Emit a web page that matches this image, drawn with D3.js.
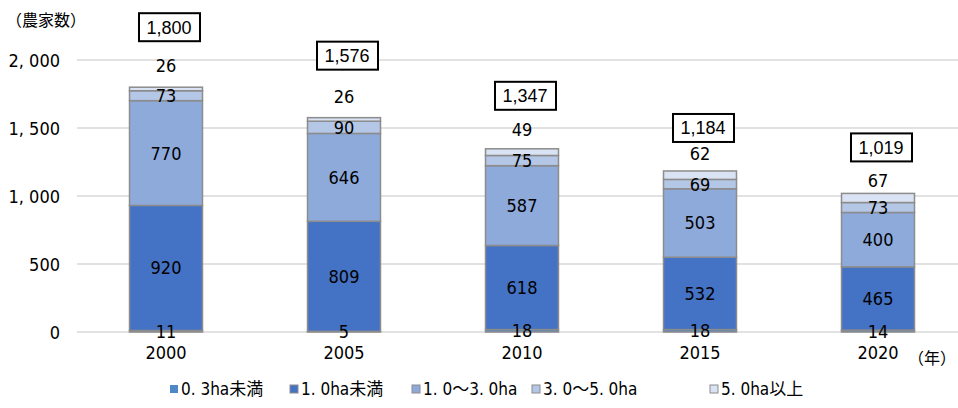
<!DOCTYPE html>
<html>
<head>
<meta charset="utf-8">
<script src="https://cdn.jsdelivr.net/npm/d3@7"></script>
<style>
  body { margin: 0; background: #fff; }
  text { font-family: "DejaVu Sans Condensed", "Noto Sans CJK JP", sans-serif; fill: #000; }
</style>
</head>
<body>
<script>
const years = ['2000', '2005', '2010', '2015', '2020']
const seriesNames = ['0. 3ha未満', '1. 0ha未満', '1. 0～3. 0ha', '3. 0～5. 0ha', '5. 0ha以上']
const under03 = [11, 5, 18, 18, 14]
const under10 = [920, 809, 618, 532, 465]
const from10to30 = [770, 646, 587, 503, 400]
const from30to50 = [73, 90, 75, 69, 73]
const over50 = [26, 26, 49, 62, 67]
const totals = [1800, 1576, 1347, 1184, 1019]
const yTicks = [0, 500, 1000, 1500, 2000]
const colors = ['#4f88c6', '#4472c4', '#8eaadb', '#b4c7e7', '#dae3f3']

// hand placed label lifts (px above bar top), like the original
const topLift = [22, 21, 19, 17, 13]
const boxLift = [60, 62, 53, 43, 46]

const width = 958
const height = 408
const margins = { top: 60, bottom: 76, left: 77, right: -9 }

const svg = d3.select('body').append('svg')
  .attr('width', width)
  .attr('height', height)

const rows = years.map((y, i) => ({
  year: y,
  s0: under03[i], s1: under10[i], s2: from10to30[i], s3: from30to50[i], s4: over50[i]
}))
const keys = ['s0', 's1', 's2', 's3', 's4']
const stacked = d3.stack().keys(keys)(rows)

const xScale = d3.scaleBand()
  .domain(years)
  .range([margins.left, width - margins.right])
  .paddingInner(0.59)
  .paddingOuter(0.295)
const yScale = d3.scaleLinear()
  .domain([0, 2000])
  .range([height - margins.bottom, margins.top])

// grid
svg.append('g')
  .selectAll('line')
  .data(yTicks)
  .enter()
  .append('line')
  .attr('x1', margins.left)
  .attr('x2', width)
  .attr('y1', d => yScale(d))
  .attr('y2', d => yScale(d))
  .attr('stroke', '#d9d9d9')
  .attr('stroke-width', 1.3)

// y axis labels
const yAxis = d3.axisLeft(yScale)
  .tickValues(yTicks)
  .tickSize(0)
  .tickPadding(0)
  .tickFormat(d => d3.format(',')(d).replace(',', ', '))
svg.append('g')
  .attr('transform', `translate(60,0)`)
  .call(yAxis)
  .call(g => g.select('.domain').remove())
  .selectAll('text')
  .style('font-family', '"DejaVu Sans Condensed", sans-serif')
  .style('font-size', '18px')
  .attr('dy', '0.35em')

// x axis labels
const xAxis = d3.axisBottom(xScale).tickSize(0).tickPadding(0)
svg.append('g')
  .attr('transform', `translate(0,${yScale(0) + 14})`)
  .call(xAxis)
  .call(g => g.select('.domain').remove())
  .selectAll('text')
  .style('font-family', '"DejaVu Sans Condensed", sans-serif')
  .style('font-size', '18px')
  .attr('dy', '0.71em')

// bars
const layers = svg.append('g')
  .selectAll('g')
  .data(stacked)
  .enter()
  .append('g')
  .attr('fill', (d, i) => colors[i])

layers.selectAll('rect')
  .data(d => d)
  .enter()
  .append('rect')
  .attr('x', d => xScale(d.data.year))
  .attr('width', xScale.bandwidth())
  .attr('y', d => yScale(d[1]))
  .attr('height', d => yScale(d[0]) - yScale(d[1]))
  .attr('stroke', '#8c8c8c')
  .attr('stroke-width', 1.5)

// segment labels (all but top layer centered)
stacked.forEach((layer, li) => {
  svg.append('g')
    .selectAll('text')
    .data(layer)
    .enter()
    .append('text')
    .attr('text-anchor', 'middle')
    .attr('dy', '0.36em')
    .style('font-size', '18px')
    .attr('x', d => xScale(d.data.year) + xScale.bandwidth() / 2)
    .attr('y', (d, i) => li === 4
      ? yScale(d[1]) - topLift[i]
      : (yScale(d[0]) + yScale(d[1])) / 2)
    .text(d => d.data[keys[li]])
})

// total boxes
const boxes = svg.append('g')
  .selectAll('g')
  .data(totals)
  .enter()
  .append('g')
  .attr('transform', (d, i) => `translate(${xScale(years[i]) + xScale.bandwidth() / 2 + 3},${yScale(d) - boxLift[i]})`)
boxes.append('rect')
  .attr('x', -30)
  .attr('y', -14)
  .attr('width', 61)
  .attr('height', 28)
  .attr('fill', '#fff')
  .attr('stroke', '#000')
  .attr('stroke-width', 2)
boxes.append('text')
  .attr('text-anchor', 'middle')
  .attr('dy', '0.36em')
  .style('font-family', '"Liberation Sans", sans-serif')
  .style('font-size', '18px')
  .text(d => d3.format(',')(d))

// unit labels
svg.append('text')
  .attr('x', 6)
  .attr('y', 20)
  .attr('dy', '0.36em')
  .style('font-family', '"Noto Sans CJK JP", sans-serif')
  .style('font-size', '16px')
  .text('（農家数）')
svg.append('text')
  .attr('x', 908)
  .attr('y', 358)
  .attr('dy', '0.36em')
  .style('font-family', '"Noto Sans CJK JP", sans-serif')
  .style('font-size', '16px')
  .text('（年）')

// legend
const legendX = [170, 290, 412, 532, 710]
const legend = svg.append('g')
  .selectAll('g')
  .data(seriesNames)
  .enter()
  .append('g')
  .attr('transform', (d, i) => `translate(${legendX[i]},389)`)
legend.append('rect')
  .attr('x', 0)
  .attr('y', -4)
  .attr('width', 8)
  .attr('height', 8)
  .attr('fill', (d, i) => colors[i])
  .attr('stroke', (d, i) => i === 0 ? 'none' : '#8c8c8c')
  .attr('stroke-width', 1)
legend.append('text')
  .attr('x', 11)
  .attr('dy', '0.36em')
  .style('font-size', '17px')
  .text(d => d)
</script>
</body>
</html>
